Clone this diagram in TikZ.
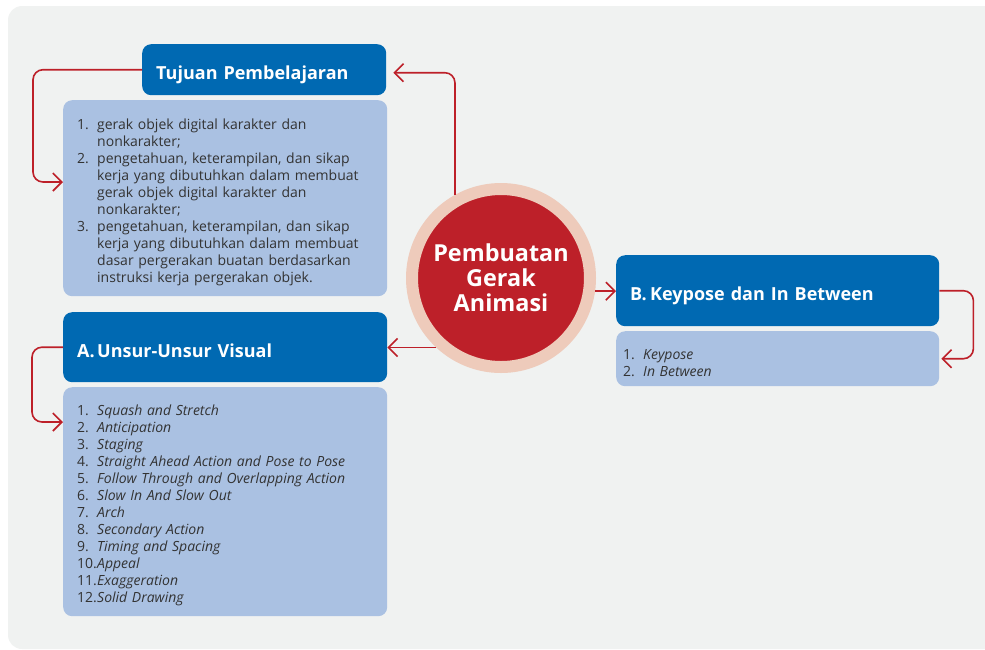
\documentclass[tikz,border=0pt]{standalone}
\usepackage{fontspec}
\setmainfont{Open Sans}
\usepackage{tikz}
\usetikzlibrary{arrows.meta}
\definecolor{latar}{HTML}{F0F2F1}
\definecolor{birutua}{HTML}{0069B2}
\definecolor{birumuda}{HTML}{AAC1E2}
\definecolor{merah}{HTML}{BD2029}
\definecolor{cincin}{HTML}{EECBBB}
\definecolor{abu}{HTML}{333333}
\tikzset{judul/.style={fill=birutua, rounded corners=9pt, text=white, font=\bfseries\fontsize{18}{20}\selectfont, anchor=north west, align=left, inner xsep=14pt, inner ysep=0pt, text height=20pt, text depth=0pt}}
\tikzset{isi/.style={fill=birumuda, rounded corners=9pt, text=abu, font=\fontsize{14}{17}\selectfont, anchor=north west, align=left, inner xsep=14pt, inner ysep=0pt, execute at begin node={\rule{0pt}{18.5pt}}}}
\tikzset{panah/.style={draw=merah, line width=1.6pt, rounded corners=10pt, -{Straight Barb[length=9pt,width=18pt]}}}
\newcommand{\nomor}[1]{\makebox[20pt][l]{#1}}
\newcommand{\lanjut}{\hspace*{20pt}}

\begin{document}
\begin{tikzpicture}[x=1pt, y=-1pt]
\useasboundingbox (0,0) rectangle (985,649);
\clip (0,0) rectangle (985,649);
\fill[latar, rounded corners=14pt] (8,6) rectangle (1010,649);
% kotak judul dan isinya
\node[judul, minimum width=244, minimum height=51, text width=216] (tujuan) at (142,44) {Tujuan Pembelajaran};
\node[isi, minimum width=324, minimum height=196, text width=296] (tujuanisi) at (63,100) {\nomor{1.}gerak objek digital karakter dan\\ \lanjut nonkarakter;\\ \nomor{2.}pengetahuan, keterampilan, dan sikap\\ \lanjut kerja yang dibutuhkan dalam membuat\\ \lanjut gerak objek digital karakter dan\\ \lanjut nonkarakter;\\ \nomor{3.}pengetahuan, keterampilan, dan sikap\\ \lanjut kerja yang dibutuhkan dalam membuat\\ \lanjut dasar pergerakan buatan berdasarkan\\ \lanjut instruksi kerja pergerakan objek.};
\node[judul, minimum width=324, minimum height=70, text width=296] (unsur) at (63,312) {\nomor{A.}Unsur-Unsur Visual};
\node[isi, minimum width=324, minimum height=229, text width=296] (unsurisi) at (63,387) {\nomor{1.}\textit{Squash and Stretch}\\ \nomor{2.}\textit{Anticipation}\\ \nomor{3.}\textit{Staging}\\ \nomor{4.}\textit{Straight Ahead Action and Pose to Pose}\\ \nomor{5.}\textit{Follow Through and Overlapping Action}\\ \nomor{6.}\textit{Slow In And Slow Out}\\ \nomor{7.}\textit{Arch}\\ \nomor{8.}\textit{Secondary Action}\\ \nomor{9.}\textit{Timing and Spacing}\\ \nomor{10.}\textit{Appeal}\\ \nomor{11.}\textit{Exaggeration}\\ \nomor{12.}\textit{Solid Drawing}};
\node[judul, minimum width=323, minimum height=71, text width=295] (kunci) at (616,255) {\nomor{B.}Keypose dan In Between};
\node[isi, minimum width=323, minimum height=55, text width=309, inner xsep=7pt] (kunciisi) at (616,331) {\nomor{1.}\textit{Keypose}\\ \nomor{2.}\textit{In Between}};
% lingkaran pusat
\node[circle, fill=merah, draw=cincin, line width=12pt, minimum size=178, text=white, align=center, font=\bfseries\fontsize{23.4}{25}\selectfont] (pusat) at (501,278) {Pembuatan\\ Gerak\\ Animasi};
% panah
\draw[panah] (tujuan.west) -- ++(-109,0) |- ([yshift=-82pt]tujuanisi.north west);
\draw[panah] (pusat.119) |- ([xshift=7pt, yshift=-3pt]tujuan.east);
\draw[panah] (pusat.-8.5) -- (pusat.-8.5 -| kunci.west);
\draw[panah] (kunci.east) -- ++(34,0) |- ([xshift=2pt]kunciisi.east);
\draw[panah] (pusat.227.5) -- (pusat.227.5 -| unsur.east);
\draw[panah] (unsur.west) -- ++(-31,0) |- ([yshift=-35pt]unsurisi.north west);
\end{tikzpicture}
\end{document}
